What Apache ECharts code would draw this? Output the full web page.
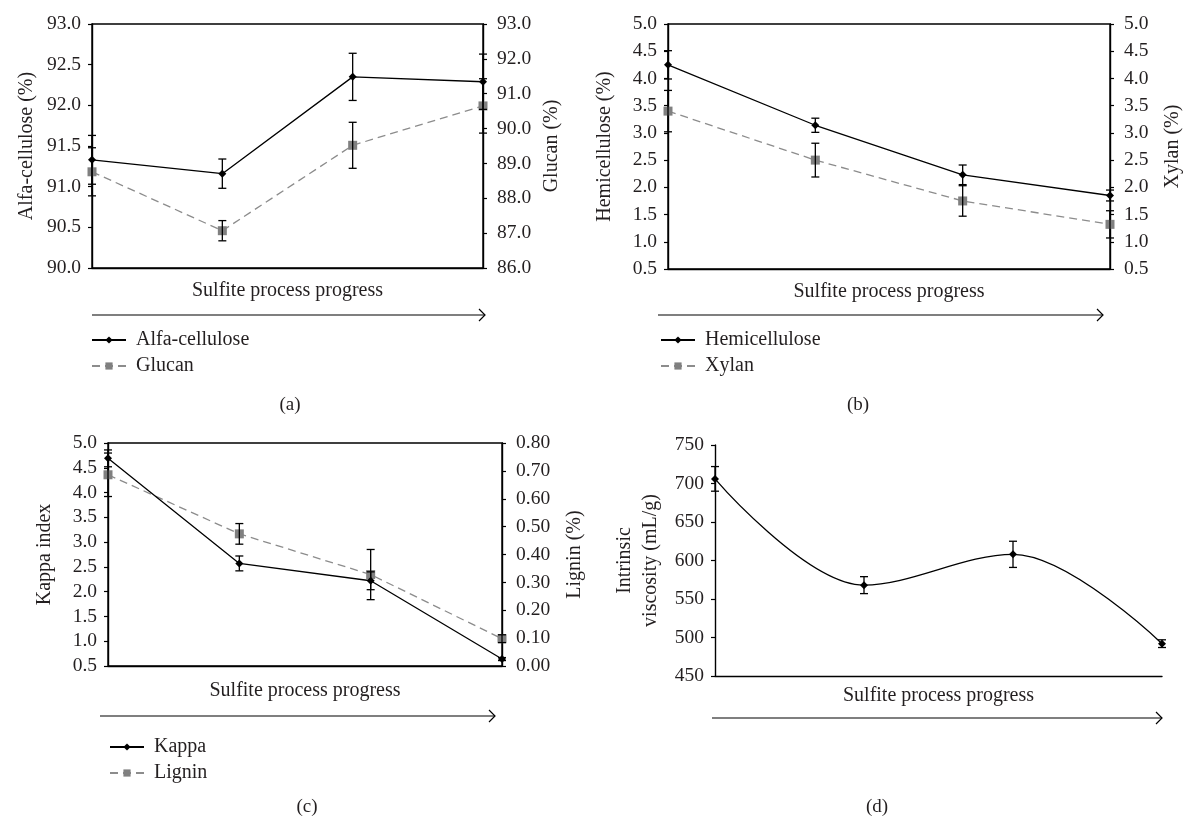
<!DOCTYPE html>
<html>
<head>
<meta charset="utf-8">
<script src="https://cdn.jsdelivr.net/npm/echarts@6/dist/echarts.min.js"></script>
<style>
html,body{margin:0;padding:0;background:#fff;}
#chart{width:1187px;height:820px;}
</style>
</head>
<body>
<div id="chart"></div>
<script>
// ---- data ----
const categories = ['1', '2', '3', '4'];
const alfaCellulose = [91.33, 91.16, 92.35, 92.29];
const alfaErr = [0.30, 0.18, 0.29, 0.34];
const glucan = [88.76, 87.07, 89.52, 90.65];
const glucanErr = [0.69, 0.29, 0.66, 0.78];
const hemicellulose = [4.25, 3.14, 2.23, 1.85];
const hemiErr = [0.26, 0.13, 0.18, 0.10];
const xylan = [3.40, 2.50, 1.75, 1.32];
const xylanErr = [0.38, 0.31, 0.28, 0.25];
const kappa = [4.69, 2.57, 2.22, 0.64];
const kappaErr = [0.17, 0.15, 0.18, 0.03];
const lignin = [0.686, 0.474, 0.328, 0.098];
const ligninErr = [0.078, 0.037, 0.09, 0.014];
const viscosity = [706, 568, 608, 492];
const viscosityErr = [16, 11, 17, 5];
const xTitle = 'Sulfite process progress';

// ---- styles ----
const FONT = 'Liberation Serif';
const TXT = '#231f20';
const GRAY = '#808080';
const tickFont = {fontFamily: FONT, fontSize: 19.5, color: TXT};
const nameFont = {fontFamily: FONT, fontSize: 20, color: TXT};

function xAxis(gi, gap) {
  return {
    gridIndex: gi, type: 'category', data: categories, boundaryGap: false,
    axisLabel: {show: false}, axisTick: {show: false},
    axisLine: {lineStyle: {color: '#000', width: 1.4}},
    name: xTitle, nameLocation: 'middle', nameGap: gap, nameTextStyle: nameFont
  };
}
function yAxis(gi, pos, min, max, interval, dec, name, gap) {
  return {
    gridIndex: gi, type: 'value', position: pos, min: min, max: max, interval: interval,
    axisLine: {show: true, lineStyle: {color: '#000', width: 1.4}},
    axisTick: {show: true, length: 4, lineStyle: {color: '#000', width: 1.2}},
    splitLine: {show: false},
    axisLabel: Object.assign({formatter: v => v.toFixed(dec), margin: pos === 'left' ? 11 : 14}, tickFont),
    name: name, nameLocation: 'middle', nameRotate: 90, nameGap: gap,
    nameTextStyle: Object.assign({lineHeight: 26}, nameFont)
  };
}
function solidSeries(name, xi, yi, data, smooth) {
  return {
    name: name, type: 'line', xAxisIndex: xi, yAxisIndex: yi, data: data,
    smooth: smooth || false, symbol: 'diamond', symbolSize: 8, z: 5,
    lineStyle: {color: '#000', width: 1.3}, itemStyle: {color: '#000'}
  };
}
function dashSeries(name, xi, yi, data) {
  return {
    name: name, type: 'line', xAxisIndex: xi, yAxisIndex: yi, data: data,
    symbol: 'rect', symbolSize: 9, z: 4,
    lineStyle: {color: '#8c8c8c', width: 1.3, type: [8, 5]}, itemStyle: {color: GRAY}
  };
}
function errSeries(xi, yi, vals, errs) {
  return {
    type: 'custom', xAxisIndex: xi, yAxisIndex: yi, silent: true, z: 6,
    data: vals.map((v, i) => [i, v - errs[i], v + errs[i]]),
    encode: {x: 0, y: [1, 2]},
    renderItem: function (params, api) {
      const lo = api.coord([api.value(0), api.value(1)]);
      const hi = api.coord([api.value(0), api.value(2)]);
      const w = 4;
      const st = {stroke: '#000', lineWidth: 1.3};
      return {type: 'group', children: [
        {type: 'line', shape: {x1: lo[0], y1: lo[1], x2: hi[0], y2: hi[1]}, style: st},
        {type: 'line', shape: {x1: lo[0] - w, y1: lo[1], x2: lo[0] + w, y2: lo[1]}, style: st},
        {type: 'line', shape: {x1: hi[0] - w, y1: hi[1], x2: hi[0] + w, y2: hi[1]}, style: st}
      ]};
    }
  };
}
function legend(names, left, top) {
  return {
    data: names, orient: 'vertical', left: left, top: top,
    itemWidth: 34, itemHeight: 9, itemGap: 6, selectedMode: false,
    textStyle: {fontFamily: FONT, fontSize: 20, color: TXT, padding: [0, 0, 0, 5]}
  };
}
function arrow(x1, x2, y) {
  return {
    type: 'group', children: [
      {type: 'line', shape: {x1: x1, y1: y, x2: x2, y2: y}, style: {stroke: '#000', lineWidth: 1.2}},
      {type: 'polyline', shape: {points: [[x2 - 6, y - 6], [x2, y], [x2 - 6, y + 6]]}, style: {stroke: '#000', lineWidth: 1.2, fill: null}}
    ]
  };
}
function label(t, x, y) {
  return {type: 'text', x: x, y: y, style: {text: t, fontFamily: FONT, fontSize: 19, fill: TXT, textAlign: 'center', textVerticalAlign: 'middle'}};
}

const option = {
  backgroundColor: '#fff',
  animation: false,
  grid: [
    {left: 92, top: 24, width: 391, height: 244, show: true, borderColor: '#000', borderWidth: 1.4},
    {left: 668, top: 24, width: 445, height: 245, show: true, borderColor: '#000', borderWidth: 1.4},
    {left: 108, top: 443, width: 394, height: 223, show: true, borderColor: '#000', borderWidth: 1.4},
    {left: 715, top: 445, width: 447, height: 231}
  ],
  xAxis: [xAxis(0, 13), xAxis(1, 13), xAxis(2, 15), xAxis(3, 10)],
  yAxis: [
    yAxis(0, 'left', 90, 93, 0.5, 1, 'Alfa-cellulose (%)', 52),
    yAxis(0, 'right', 86, 93, 1, 1, 'Glucan (%)', 56),
    yAxis(1, 'left', 0.5, 5.0, 0.5, 1, 'Hemicellulose (%)', 50),
    yAxis(1, 'right', 0.5, 5.0, 0.5, 1, 'Xylan (%)', 50),
    yAxis(2, 'left', 0.5, 5.0, 0.5, 1, 'Kappa index', 50),
    yAxis(2, 'right', 0, 0.8, 0.1, 2, 'Lignin (%)', 60),
    yAxis(3, 'left', 450, 750, 50, 0, 'Intrinsic\nviscosity (mL/g)', 51)
  ],
  legend: [
    legend(['Alfa-cellulose', 'Glucan'], 86, 325),
    legend(['Hemicellulose', 'Xylan'], 655, 325),
    legend(['Kappa', 'Lignin'], 104, 732)
  ],
  graphic: [
    arrow(92, 485, 315), arrow(658, 1103, 315), arrow(100, 495, 716), arrow(712, 1162, 718),
    label('(a)', 290, 405), label('(b)', 858, 405), label('(c)', 307, 807), label('(d)', 877, 807)
  ],
  series: [
    dashSeries('Glucan', 0, 1, glucan),
    solidSeries('Alfa-cellulose', 0, 0, alfaCellulose),
    errSeries(0, 0, alfaCellulose, alfaErr),
    errSeries(0, 1, glucan, glucanErr),
    dashSeries('Xylan', 1, 3, xylan),
    solidSeries('Hemicellulose', 1, 2, hemicellulose),
    errSeries(1, 2, hemicellulose, hemiErr),
    errSeries(1, 3, xylan, xylanErr),
    dashSeries('Lignin', 2, 5, lignin),
    solidSeries('Kappa', 2, 4, kappa),
    errSeries(2, 4, kappa, kappaErr),
    errSeries(2, 5, lignin, ligninErr),
    solidSeries('Viscosity', 3, 6, viscosity, 0.35),
    errSeries(3, 6, viscosity, viscosityErr)
  ]
};
const chart = echarts.init(document.getElementById('chart'), null, {renderer: 'canvas'});
chart.setOption(option);
</script>
</body>
</html>
